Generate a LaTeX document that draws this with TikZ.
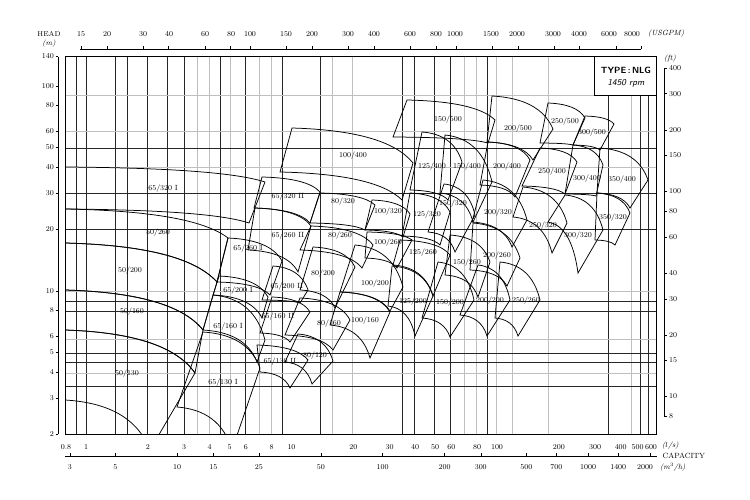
\documentclass[tikz,border=0pt]{standalone}
\usepackage{tikz}
\usetikzlibrary{calc}

\tikzset{
  griddark/.style={black!85,line width=0.6pt},
  gridlight/.style={black!25,line width=0.6pt},
  tile/.style={black,line width=0.75pt},
  tilelabel/.style={font=\fontsize{7.5}{8}\selectfont,inner sep=0pt},
  axlabel/.style={font=\fontsize{7.5}{9}\selectfont,inner sep=1pt},
  unitlabel/.style={font=\fontsize{7.5}{8}\selectfont\itshape,inner sep=1pt},
}

\begin{document}
\begin{tikzpicture}[x=1pt,y=-1pt]
	\useasboundingbox (0,0) rectangle (750,500);

	\foreach \gx in {76.7,86,115.7,127.7,147.7,167.7,184.3,220,245.7,282.7,320.7,402.7,414.3,434.3,450.3,487.3,608.3,640.7,648.3}
		\draw[griddark] (\gx,56.7)--(\gx,434);
	\foreach \gx in {197.7,209.3,230,259.3,271,332.7,352.7,464.3,476.7,496.7,512.7,548.3,631}
		\draw[gridlight] (\gx,56.7)--(\gx,434);
	\foreach \gy in {95,131,167.3,291,339.3,373}
		\draw[gridlight] (65,\gy)--(656.7,\gy);
	\foreach \gy in {148.3,193.3,229.3,301,311.7,353.3,362.7,386}
		\draw[griddark] (65,\gy)--(656.7,\gy);

	\begin{scope}
		\clip (65,56.7) rectangle (656.7,434);
		\foreach \Ax/\Ay/\Bx/\By/\Cx/\Cy/\Dx/\Dy/\lx/\ly/\na/\nb [count=\i] in {
			65/167/265/182/249/223/65/209/163/189/65/320 I,
			65/209/228/238/217/282/65/243/158/233/50/260,
			65/243/217/282/203/330/65/290/130/271/50/200,
			65/290/203/330/195/373/65/330/132/312/50/160,
			65/330/195/373/150/450/65/400/127/374/50/130,
			262/177/320/192/310/223/254/208/288/197/65/320 II,
			228/238/282/261/270/295/217/282/248/249/65/260 I,
			255/208/311/226/298/272/248/250/288/236/65/260 II,
			219/276/268/297/262/318/213/295/238/291/65/200 I,
			273/266/308/290/300/303/262/300/287/287/65/200 II,
			213/295/265/340/257/362/203/330/228/327/65/160 I,
			272/297/310/312/290/342/260/333/278/317/65/160 II,
			203/332/260/368/232/450/177/407/223/383/65/130 I,
			257/345/308/360/290/388/260/372/280/362/65/130 II,
			298/334/333/361/312/384/285/362/315/356/80/120,
			300/298/350/320/333/350/285/335/329/324/80/160,
			313/247/355/267/335/308/300/290/323/274/80/200,
			311/226/373/245/362/268/300/250/340/236/80/260,
			320/193/375/205/365/230/310/223/343/202/80/320,
			292/128/413/163/402/200/280/172/353/156/100/400,
			372/200/410/214/403/237/365/230/388/212/100/320,
			367/232/412/240/397/268/365/258/388/243/100/260,
			355/245/403/287/390/311/340/292/375/284/100/200,
			340/292/390/312/370/358/330/325/365/321/100/160,
			422/132/462/162/448/200/410/190/432/167/125/400,
			410/193/450/212/440/245/402/236/427/215/125/320,
			400/240/450/255/433/296/393/265/423/253/125/260,
			392/266/433/296/415/336/388/306/413/302/125/200,
			407/100/495/120/488/143/393/137/448/120/150/500,
			445/135/492/182/473/222/440/193/467/167/150/400,
			444/184/475/215/455/252/428/232/453/204/150/320,
			450/235/490/262/478/297/445/275/467/263/150/260,
			438/262/474/300/450/337/422/318/450/303/150/200,
			492/96/553/129/533/160/487/142/518/129/200/500,
			488/142/530/160/515/197/480/185/507/167/200/400,
			483/180/527/220/512/247/472/222/498/213/200/320,
			473/223/520/258/507/286/470/270/497/256/200/260,
			478/265/510/300/487/336/460/315/490/301/200/200,
			548/103/585/118/573/145/540/143/565/122/250/500,
			585/116/614/124/600/150/573/145/592/133/300/500,
			540/148/577/162/565/194/522/186/552/172/250/400,
			573/145/603/165/596/196/565/194/587/179/300/400,
			600/148/648/180/630/208/597/193/622/180/350/400,
			523/187/567/223/552/253/513/217/543/226/250/320,
			565/195/603/230/578/273/548/222/578/236/300/320,
			597/193/630/213/615/245/595/240/613/218/350/320,
			500/262/540/300/518/336/495/318/526/301/250/260}
		{
			\draw[tile] (\Ax,\Ay)
				.. controls ({\Ax+0.5*(\Bx-\Ax)},{\Ay+0.05*(\By-\Ay)}) and ({\Ax+0.85*(\Bx-\Ax)},{\Ay+0.35*(\By-\Ay)}) .. (\Bx,\By)
				-- (\Cx,\Cy)
				.. controls ({\Dx+0.85*(\Cx-\Dx)},{\Dy+0.35*(\Cy-\Dy)}) and ({\Dx+0.5*(\Cx-\Dx)},{\Dy+0.05*(\Cy-\Dy)}) .. (\Dx,\Dy)
				-- cycle;
			\node[tilelabel] (pump\i) at (\lx,\ly) {\na/\nb};
		}
	\end{scope}

	\draw[line width=1pt] (65,56.7) rectangle (656.7,434);
	\draw[fill=white,line width=0.6pt] (594.3,56.7) rectangle (656.7,95);
	\node[font=\fontsize{9}{10}\selectfont\sffamily\bfseries] (type) at (626,70) {TYPE\,:\,NLG};
	\node[font=\fontsize{9}{10}\selectfont\sffamily\itshape] (rpm) at (626,83) {1450 rpm};

	% head (m)
	\draw (58.3,56.7)--(58.3,434);
	\foreach \h in {140,100,80,60,50,40,30,20,10,8,6,5,4,3,2}{
		\pgfmathsetmacro\yy{495.7-205*log10(\h)}
		\draw (55.5,\yy)--(58.3,\yy);
		\node[axlabel,anchor=east] (head\h) at (55,\yy) {\h};
	}
	\node[font=\fontsize{7}{8}\selectfont] (headlab) at (49,34) {HEAD};
	\node[unitlabel] (headunit) at (49,44) {(m)};

	% USGPM
	\draw (80,49)--(641,49);
	\foreach \g/\lx in {15/81,20/107,30/143,40/169,60/205,80/231,100/250,150/286,200/312,300/348,400/374,600/410,800/436,1000/455,1500/491,2000/517,3000/553,4000/579,6000/609,8000/632}{
		\pgfmathsetmacro\xx{-160.6+205.5*log10(\g)}
		\draw (\xx,46)--(\xx,49);
		\node[axlabel] (gpm\g) at (\lx,34) {\g};
	}
	\node[unitlabel,anchor=west] (gpmunit) at (647,34) {(USGPM)};

	% capacity l/s
	\foreach \q [count=\i] in {0.8,1,2,3,4,5,6,8,10,20,30,40,50,60,80,100,200,300,400,500,600}{
		\pgfmathsetmacro\xx{86+205.5*log10(\q)}
		\pgfmathsetmacro\lx{min(\xx-(\i>19)*3,651)}
		\node[axlabel] (ls\i) at (\lx,447) {\q};
	}
	\node[unitlabel,anchor=west] (lsunit) at (661,446) {($l$/s)};

	% capacity m3/h
	\draw (65,456)--(656.7,456);
	\foreach \m in {3,5,10,15,25,50,100,200,300,500,700,1000,1400,2000}{
		\pgfmathsetmacro\xx{-28.3+205.5*log10(\m)}
		\pgfmathsetmacro\lx{min(\xx,645)}
		\draw (\xx,453)--(\xx,456);
		\node[axlabel] (mh\m) at (\lx,467) {\m};
	}
	\node[font=\fontsize{7.5}{8}\selectfont,anchor=west] (cap) at (659,456) {CAPACITY};
	\node[unitlabel,anchor=west] (mhunit) at (659,467) {(m$^3$/h)};

	% head (ft)
	\draw (664,68.1)--(664,416.4);
	\foreach \f in {400,300,200,150,100,80,60,40,30,20,15,10,8}{
		\pgfmathsetmacro\yy{601.5-205*log10(\f)}
		\draw (664,\yy)--(667,\yy);
		\node[axlabel,anchor=west] (ft\f) at (668,\yy) {\f};
	}
	\node[unitlabel] (ftunit) at (670,59) {(ft)};
\end{tikzpicture}
\end{document}
